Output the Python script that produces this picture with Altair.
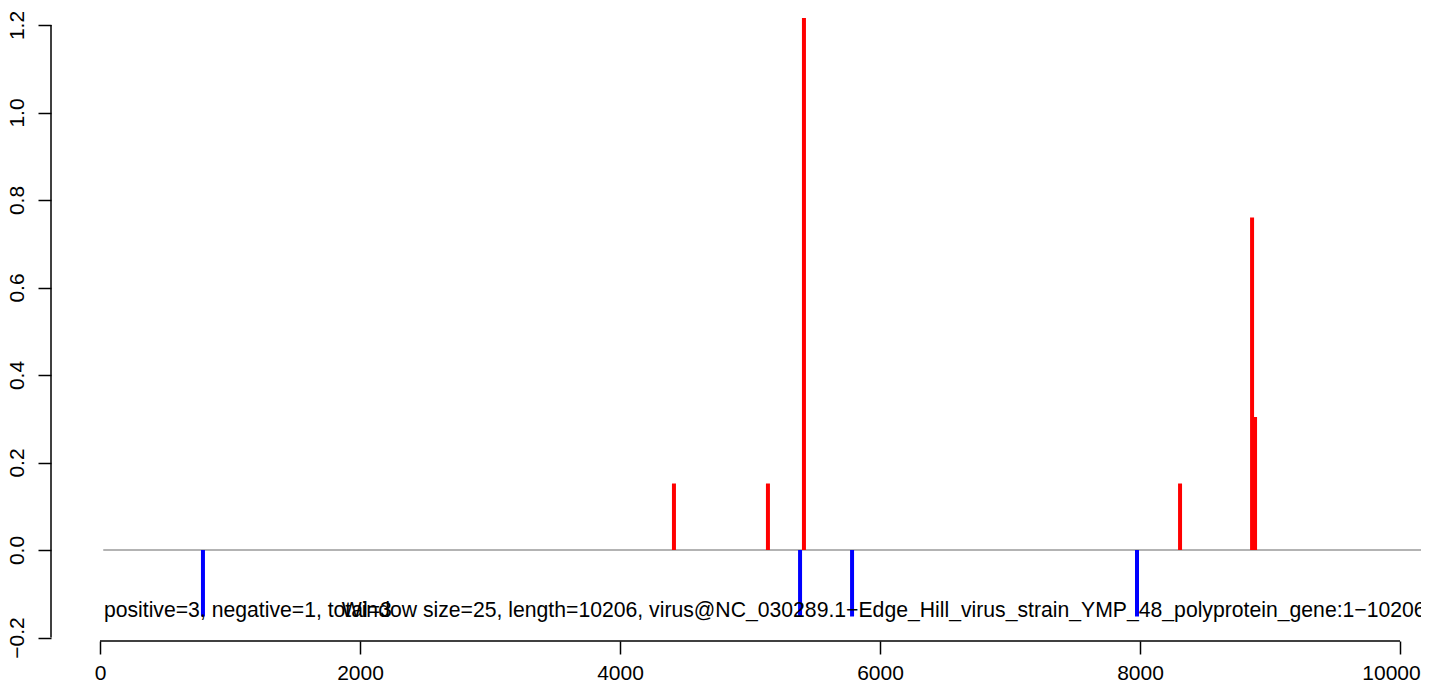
import altair as alt
import pandas as pd

# ---- data ----
pos_x = [4415, 5138, 5415, 8308, 8862, 8885]
pos_y = [0.152, 0.152, 1.216, 0.152, 0.76, 0.304]
neg_x = [792, 5385, 5785, 7977]
neg_y = [-0.152, -0.152, -0.152, -0.152]

x_ticks = [0, 2000, 4000, 6000, 8000, 10000]
y_ticks = [-0.2, 0.0, 0.2, 0.4, 0.6, 0.8, 1.0, 1.2]

baseline_x = [25, 10206]

labels = [
    "positive=3, negative=1, total=3",
    "Window size=25, length=10206, virus@NC_030289.1\u2212Edge_Hill_virus_strain_YMP_48_polyprotein_gene:1\u221210206",
]
label_x = [30, 1859]
label_y = [-0.152, -0.152]

# ---- tables ----
bars = pd.DataFrame({
    "pos": pos_x + neg_x,
    "val": pos_y + neg_y,
    "sign": ["positive"] * len(pos_x) + ["negative"] * len(neg_x),
})
base_df = pd.DataFrame({"x0": [baseline_x[0]], "x1": [baseline_x[1]], "y": [0.0]})
text_df = pd.DataFrame({"label": labels, "x": label_x, "y": label_y})

X_DOMAIN = [-376.9, 10161.5]
Y_DOMAIN = [-0.208, 1.2389]
FONT = "Liberation Sans"

xaxis_df = pd.DataFrame({"x0": [min(x_ticks)], "x1": [max(x_ticks)], "y": [Y_DOMAIN[0]]})
yaxis_df = pd.DataFrame({"y0": [min(y_ticks)], "y1": [max(y_ticks)], "x": [X_DOMAIN[0]]})

xs = alt.Scale(domain=X_DOMAIN, nice=False, zero=False)
ys = alt.Scale(domain=Y_DOMAIN, nice=False, zero=False)

x_axis = alt.Axis(
    values=x_ticks, format="d", title=None, domain=False, grid=False,
    tickSize=13, tickWidth=1.5, tickColor="black",
    labelFont=FONT, labelFontSize=21, labelColor="black",
    labelBaseline="alphabetic", labelAlign="center", labelPadding=25,
    labelOffset={"condition": {"test": "datum.value == 10000", "value": -9}, "value": 0},
    labelOverlap=False, labelFlush=False,
)
y_axis = alt.Axis(
    values=y_ticks, format=".1f", title=None, domain=False, grid=False,
    tickSize=13, tickWidth=1.5, tickColor="black",
    labelFont=FONT, labelFontSize=21, labelColor="black",
    labelAngle=270, labelAlign="center", labelBaseline="alphabetic",
    labelPadding=15, labelOverlap=False, labelFlush=False,
)

zero_line = alt.Chart(base_df).mark_rule(color="#9a9a9a", strokeWidth=1.5).encode(
    x=alt.X("x0:Q", scale=xs, axis=x_axis),
    x2="x1:Q",
    y=alt.Y("y:Q", scale=ys, axis=y_axis),
)

bar_layer = alt.Chart(bars).mark_rule(strokeWidth=4, strokeCap="butt").encode(
    x=alt.X("pos:Q", scale=xs, axis=x_axis),
    y=alt.Y("val:Q", scale=ys, axis=y_axis),
    y2=alt.datum(0),
    color=alt.Color("sign:N", scale=alt.Scale(domain=["positive", "negative"],
                                              range=["#FF0000", "#0000FF"]), legend=None),
)

text_layer = alt.Chart(text_df).mark_text(
    align="left", baseline="alphabetic", font=FONT, fontSize=21.2, color="black", clip=False
).encode(
    x=alt.X("x:Q", scale=xs, axis=x_axis),
    y=alt.Y("y:Q", scale=ys, axis=y_axis),
    text="label:N",
)

x_axis_line = alt.Chart(xaxis_df).mark_rule(color="black", strokeWidth=1.5).encode(
    x=alt.X("x0:Q", scale=xs, axis=x_axis),
    x2="x1:Q",
    y=alt.Y("y:Q", scale=ys, axis=y_axis),
)

y_axis_line = alt.Chart(yaxis_df).mark_rule(color="black", strokeWidth=1.5).encode(
    x=alt.X("x:Q", scale=xs, axis=x_axis),
    y=alt.Y("y0:Q", scale=ys, axis=y_axis),
    y2="y1:Q",
)

chart = alt.layer(zero_line, bar_layer, text_layer, x_axis_line, y_axis_line).properties(
    width=1370,
    height=633,
    autosize=alt.AutoSizeParams(type="none"),
    padding={"left": 43, "top": 0, "right": 0, "bottom": 39},
    background="white",
).configure_view(stroke=None)

chart.save("out.html", embed_options={"renderer": "svg", "actions": False})
